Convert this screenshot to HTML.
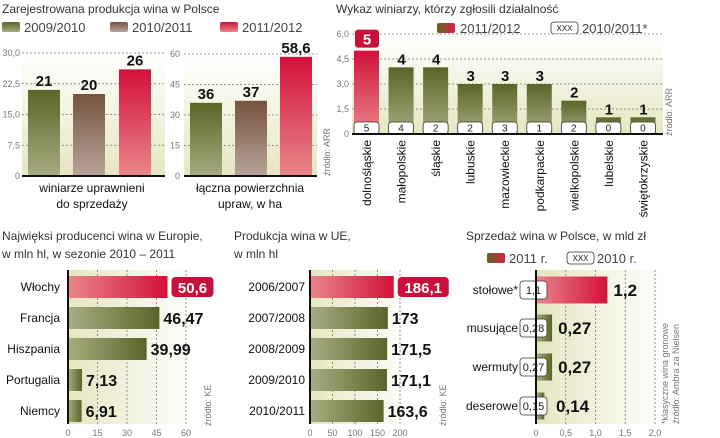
<!DOCTYPE html>
<html><head><meta charset="utf-8"><style>
html,body{margin:0;padding:0;background:#fff;}
svg{display:block;font-family:"Liberation Sans Narrow","Liberation Sans",sans-serif;}
.t{font-size:12px;fill:#333;}
.tk{font-size:9px;fill:#777;}
.v{font-weight:bold;fill:#111;}
.c{font-size:12px;fill:#111;}
</style></head><body>
<svg id="s" width="720" height="438" viewBox="0 0 720 438">
<defs>
<linearGradient id="gv" x1="0" y1="0" x2="0" y2="1"><stop offset="0" stop-color="#5b6528"/><stop offset="1" stop-color="#a7ab80"/></linearGradient>
<linearGradient id="bv" x1="0" y1="0" x2="0" y2="1"><stop offset="0" stop-color="#76533f"/><stop offset="1" stop-color="#b7a49a"/></linearGradient>
<linearGradient id="rv" x1="0" y1="0" x2="0" y2="1"><stop offset="0" stop-color="#d3103a"/><stop offset="1" stop-color="#e8878a"/></linearGradient>
<linearGradient id="gh" x1="0" y1="0" x2="1" y2="0"><stop offset="0" stop-color="#a9ad83"/><stop offset="1" stop-color="#5b6528"/></linearGradient>
<linearGradient id="rh" x1="0" y1="0" x2="1" y2="0"><stop offset="0" stop-color="#e8878a"/><stop offset="1" stop-color="#d3103a"/></linearGradient>
<linearGradient id="bgv" x1="0" y1="0" x2="0" y2="1"><stop offset="0" stop-color="#ffffff"/><stop offset="1" stop-color="#e6e6c2"/></linearGradient>
<linearGradient id="bgh" x1="0" y1="0" x2="1" y2="0"><stop offset="0" stop-color="#e6e6c2"/><stop offset="1" stop-color="#ffffff"/></linearGradient>
<linearGradient id="lg" x1="0" y1="0" x2="1" y2="0"><stop offset="0" stop-color="#5b6528"/><stop offset="1" stop-color="#e0203f"/></linearGradient>
</defs>
<g id="root"></g>
</svg>
<script>
// ---- data ----
const p1Series = ["2009/2010","2010/2011","2011/2012"];
const p1aValues = [21,20,26];
const p1aLabels = ["21","20","26"];
const p1aTicks = ["0","7,5","15,0","22,5","30,0"];
const p1bValues = [36,37,58.6];
const p1bLabels = ["36","37","58,6"];
const p1bTicks = ["0","15","30","45","60"];
const p2Cats = ["dolnośląskie","małopolskie","śląskie","lubuskie","mazowieckie","podkarpackie","wielkopolskie","lubelskie","świętokrzyskie"];
const p2Cur = [5,4,4,3,3,3,2,1,1];
const p2Prev = [5,4,2,2,3,1,2,0,0];
const p2Ticks = ["0","1,5","3,0","4,5","6,0"];
const p3Cats = ["Włochy","Francja","Hiszpania","Portugalia","Niemcy"];
const p3Values = [50.6,46.47,39.99,7.13,6.91];
const p3Labels = ["50,6","46,47","39,99","7,13","6,91"];
const p3Ticks = ["0","15","30","45","60"];
const p4Cats = ["2006/2007","2007/2008","2008/2009","2009/2010","2010/2011"];
const p4Values = [186.1,173,171.5,171.1,163.6];
const p4Labels = ["186,1","173","171,5","171,1","163,6"];
const p4Ticks = ["0","50","100","150","200"];
const p5Cats = ["stołowe*","musujące","wermuty","deserowe"];
const p5Cur = [1.2,0.27,0.27,0.14];
const p5CurLabels = ["1,2","0,27","0,27","0,14"];
const p5Prev = ["1,1","0,28","0,27","0,15"];
const p5Ticks = ["0","0,5","1,0","1,5","2,0"];

const NS="http://www.w3.org/2000/svg";
const root=document.getElementById('root');
function mk(tag,attrs,txt,parent){const e=document.createElementNS(NS,tag);for(const k in attrs)e.setAttribute(k,attrs[k]);if(txt!==undefined)e.textContent=txt;(parent||root).appendChild(e);return e;}
function txt(x,y,s,cls,extra){const a=Object.assign({x:x,y:y,class:cls},extra||{});return mk('text',a,s);}
function lin(x1,y1,x2,y2,st,w,dash){const a={x1:x1,y1:y1,x2:x2,y2:y2,stroke:st,'stroke-width':w};if(dash)a['stroke-dasharray']=dash;return mk('line',a);}
function box(x,y,w,h,s,fs){const r=mk('rect',{x:x,y:y,width:w,height:h,rx:3,fill:'#fff',stroke:'#333','stroke-width':0.8});const t=txt(x+w/2,y+h/2+(fs||10)*0.36,s,'',{'text-anchor':'middle','font-size':fs||10,fill:'#222'});}

// ---- Panel 1 ----
let e=txt(2,13,"Zarejestrowana produkcja wina w Polsce",'t');

const p1Fills=['url(#gv)','url(#bv)','url(#rv)'];
const p1LegX=[2,110,220];
p1Series.forEach((s,i)=>{const r=mk('rect',{x:p1LegX[i],y:22,width:18,height:10,rx:2,fill:p1Fills[i]});

const t=txt(p1LegX[i]+22,32,s,'',{'font-size':13,fill:'#444'});
});
function vchart(x0,x1,top,bot,max,vals,labs,ticks,barXs,tickX,name){
  mk('rect',{x:x0,y:top,width:x1-x0,height:bot-top,fill:'url(#bgv)'});
  ticks.forEach((t,i)=>{const y=bot-(bot-top)*i/(ticks.length-1);
    if(i>0)lin(x0,y,x1,y,'#777',0.8,'2,2');
    const tt=txt(tickX,y+3,t,'tk',{'text-anchor':'end'});});
  vals.forEach((v,i)=>{const h=(bot-top)*v/max;const r=mk('rect',{x:barXs[i],y:bot-h,width:32,height:h,fill:p1Fills[i]});
    
    const t=txt(barXs[i]+16,bot-h-4,labs[i],'v',{'text-anchor':'middle','font-size':15});
    });
  lin(x0,bot,x1,bot,'#111',2);
}
vchart(22,165,53,176,30,p1aValues,p1aLabels,p1aTicks,[28,73,119],20,'p1a');
e=txt(92,192,"winiarze uprawnieni",'c',{'text-anchor':'middle','font-size':13});
e=txt(92,208,"do sprzedaży",'c',{'text-anchor':'middle','font-size':13});
vchart(184,317,54,176,60,p1bValues,p1bLabels,p1bTicks,[190,235,280],180,'p1b');
e=txt(250,192,"łączna powierzchnia",'c',{'text-anchor':'middle','font-size':13});
e=txt(250,208,"upraw, w ha",'c',{'text-anchor':'middle','font-size':13});
e=txt(330,176,"źródło: ARR",'tk',{transform:'rotate(-90 330 176)'});

// ---- Panel 2 ----
e=txt(336,13,"Wykaz winiarzy, którzy zgłosili działalność",'t');
e=mk('rect',{x:437,y:23,width:18,height:10,rx:2,fill:'url(#lg)'});
e=txt(460,33,"2011/2012",'',{'font-size':13,fill:'#444'});
box(551,22,27,12,"XXX",8);
e=txt(582,33,"2010/2011*",'',{'font-size':13,fill:'#444'});
e=txt(658,47,"*1 był w woj. pomorskim",'tk',{'text-anchor':'end'});
(function(){const x0=352,x1=663,top=34,bot=134,max=6;
  mk('rect',{x:x0,y:top,width:x1-x0,height:bot-top,fill:'url(#bgv)'});
  p2Ticks.forEach((t,i)=>{const y=bot-(bot-top)*i/(p2Ticks.length-1);
    if(i>0)lin(x0,y,x1,y,'#777',0.8,'2,2');
    const tt=txt(349,y+3,t,'tk',{'text-anchor':'end'});});
  const step=(x1-x0)/p2Cats.length;
  p2Cats.forEach((c,i)=>{const bx=x0+2+i*step;const h=(bot-top)*p2Cur[i]/max;
    const r=mk('rect',{x:bx,y:bot-h,width:25,height:h,fill:i===0?'url(#rv)':'url(#gv)'});
    
    if(i===0){const rb=mk('rect',{x:bx+1,y:bot-h-21,width:24,height:18,rx:3,fill:'#c8103a'});
      const t=txt(bx+13,bot-h-6,String(p2Cur[i]),'v',{'text-anchor':'middle','font-size':15});t.style.fill='#fff';}
    else{const t=txt(bx+13,bot-h-3,String(p2Cur[i]),'v',{'text-anchor':'middle','font-size':15});}
    box(bx,bot-12,25,12,String(p2Prev[i]),10);
    const ct=txt(bx+17,140,c,'c',{'text-anchor':'end',transform:'rotate(-90 '+(bx+17)+' 140)','font-size':12.5});
    });
  lin(x0,bot,x1,bot,'#111',2);
})();
e=txt(672,136,"źródło: ARR",'tk',{transform:'rotate(-90 672 136)'});

// ---- horizontal chart helper ----
function hchart(ax,xmax,scaleW,top,bot,cats,vals,labs,ticks,rowYs,barH,labX,name,prev){
  mk('rect',{x:ax,y:top,width:scaleW+10,height:bot-top,fill:'url(#bgh)'});
  ticks.forEach((t,i)=>{const x=ax+scaleW*i/(ticks.length-1);
    if(i>0)lin(x,top,x,bot,'#777',0.8,'2,2');
    const tt=txt(x,bot+12,t,'tk',{'text-anchor':'middle','font-size':10});});
  cats.forEach((c,i)=>{const w=scaleW*vals[i]/xmax;const y=rowYs[i]-barH/2;
    const r=mk('rect',{x:ax,y:y,width:w,height:barH,fill:i===0?'url(#rh)':'url(#gh)'});
    
    const ct=txt(labX,rowYs[i]+4,c,'c',{'text-anchor':'end','font-size':13});
    if(i===0&&!prev){const tw=labs[i].length*9+6;const rb=mk('rect',{x:ax+w+4,y:rowYs[i]-10,width:tw,height:20,rx:4,fill:'#c8103a'});
      const t=txt(ax+w+4+tw/2,rowYs[i]+6,labs[i],'v',{'text-anchor':'middle','font-size':15});t.style.fill='#fff';}
    else{const t=txt(prev?Math.max(ax+w+6,ax+20):ax+w+4,rowYs[i]+6,labs[i],'v',{'font-size':prev?17:16});}
    if(prev)box(ax-16,rowYs[i]-9,27,18,prev[i],11);
  });
  lin(ax,top,ax,bot,'#111',2);
}

// ---- Panel 3 ----
e=txt(2,240,"Najwięksi producenci wina w Europie,",'t');
e=txt(2,258,"w mln hl, w sezonie 2010 – 2011",'t');
hchart(68,60,118,270,424,p3Cats,p3Values,p3Labels,p3Ticks,[287,318,349,380,411],22,60,'p3');
e=txt(211,426,"źródło: KE",'tk',{transform:'rotate(-90 211 426)'});

// ---- Panel 4 ----
e=txt(234,240,"Produkcja wina w UE,",'t');
e=txt(234,258,"w mln hl",'t');
hchart(310,200,90,270,424,p4Cats,p4Values,p4Labels,p4Ticks,[287,318,349,380,411],22,305,'p4');
e=txt(446,426,"źródło: KE",'tk',{transform:'rotate(-90 446 426)'});

// ---- Panel 5 ----
e=txt(466,240,"Sprzedaż wina w Polsce, w mld zł",'t');
e=mk('rect',{x:487,y:253,width:18,height:10,rx:2,fill:'url(#lg)'});
e=txt(509,263,"2011 r.",'',{'font-size':13,fill:'#444'});
box(567,252,27,12,"XXX",8);
e=txt(597,263,"2010 r.",'',{'font-size':13,fill:'#444'});
hchart(536,2,119,270,424,p5Cats,p5Cur,p5CurLabels,p5Ticks,[290,328,367,406],27,518,'p5',p5Prev);
e=txt(668,424,"*klasyczne wina gronowe",'tk',{transform:'rotate(-90 668 424)'});
e=txt(679,424,"źródło: Ambra za Nielsen",'tk',{transform:'rotate(-90 679 424)'});
</script>
</body></html>
